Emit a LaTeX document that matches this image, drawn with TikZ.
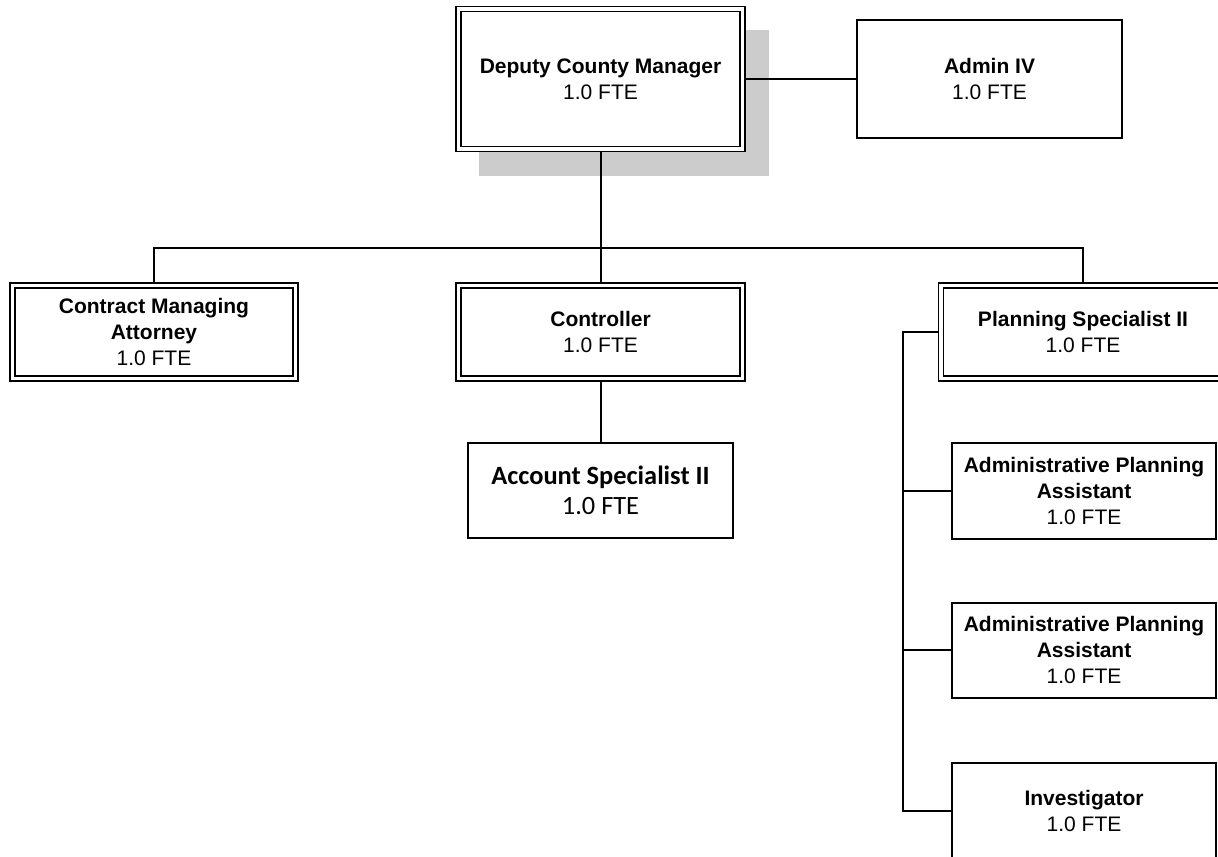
\documentclass[tikz,border=0pt]{standalone}
\usepackage{fontspec}
\setmainfont{Liberation Sans}
\newfontfamily\calfont{Carlito}
\usetikzlibrary{backgrounds}
\tikzset{
  box/.style={draw=black, fill=white, line width=1pt, inner sep=0pt, outer sep=0pt, align=center,
    font=\fontsize{10.5}{13}\selectfont},
  dbox/.style={box, line width=0.8pt, double=white, double distance=1.7pt},
  conn/.style={draw=black, line width=1pt},
  shadowbox/.style={fill=black!20, draw=none}
}
\begin{document}
\begin{tikzpicture}[x=0.5pt,y=-0.5pt]
\useasboundingbox (0,0) rectangle (1218,856);
\clip (0,0) rectangle (1218,856);
% nodes
\node[dbox, minimum width=142pt, minimum height=70pt] (dcm) at (600.5,79)
  {\textbf{Deputy County Manager}\\1.0 FTE};
\node[box, minimum width=132.5pt, minimum height=58.5pt] (admin) at (989.5,79)
  {\textbf{Admin IV}\\1.0 FTE};
\node[dbox, minimum width=141.5pt, minimum height=46.5pt] (cma) at (154,332)
  {\textbf{Contract Managing}\\\textbf{Attorney}\\1.0 FTE};
\node[dbox, minimum width=142pt, minimum height=46.5pt] (ctrl) at (600.5,332)
  {\textbf{Controller}\\1.0 FTE};
\node[dbox, minimum width=142pt, minimum height=46.5pt] (plan) at (1083,332)
  {\textbf{Planning Specialist II}\\1.0 FTE};
\node[box, minimum width=132.5pt, minimum height=47.5pt,
  font=\calfont\fontsize{13.2}{15}\selectfont] (acct) at (600.5,490.5)
  {\textbf{Account Specialist II}\\1.0 FTE};
\node[box, minimum width=132pt, minimum height=48pt] (ap1) at (1084,491)
  {\textbf{Administrative Planning}\\\textbf{Assistant}\\1.0 FTE};
\node[box, minimum width=132pt, minimum height=47.5pt] (ap2) at (1084,650)
  {\textbf{Administrative Planning}\\\textbf{Assistant}\\1.0 FTE};
\node[box, minimum width=132pt, minimum height=48pt] (inv) at (1084,811)
  {\textbf{Investigator}\\1.0 FTE};
\coordinate (bus) at (600.5,248);
\coordinate (spine) at (903,332);
\begin{scope}[on background layer]
  \fill[shadowbox] (479,30) rectangle (769,176);
  \draw[conn] (dcm.east) -- (admin.west);
  \draw[conn] (dcm.south) -- (bus);
  \draw[conn] (cma.north) -- (cma.north |- bus) -- (plan.north |- bus) -- (plan.north);
  \draw[conn] (bus) -- (ctrl.north);
  \draw[conn] (ctrl.south) -- (acct.north);
  \draw[conn] (plan.west) -- (spine) -- (spine |- inv.west) -- (inv.west);
  \draw[conn] (spine |- ap1.west) -- (ap1.west);
  \draw[conn] (spine |- ap2.west) -- (ap2.west);
\end{scope}
\end{tikzpicture}
\end{document}
